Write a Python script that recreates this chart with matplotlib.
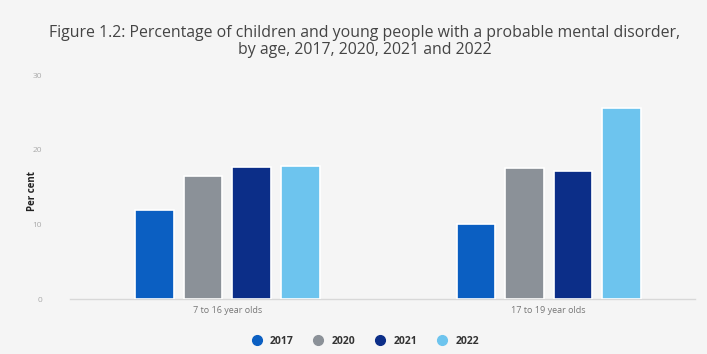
import numpy as np
import matplotlib
matplotlib.use('Agg')
import matplotlib.pyplot as plt
from matplotlib.lines import Line2D

groups = ['7 to 16 year olds', '17 to 19 year olds']
years = ['2017', '2020', '2021', '2022']
values = {
    '2017': [11.9, 10.0],
    '2020': [16.5, 17.5],
    '2021': [17.7, 17.2],
    '2022': [17.8, 25.6],
}
colors = ['#0b5fc2', '#8b9198', '#0c2e88', '#6dc4ee']

plt.rcParams['font.family'] = ['Open Sans', 'DejaVu Sans']
bg = '#f5f5f5'

fig = plt.figure(figsize=(7.07, 3.54), dpi=100, facecolor=bg)
ax = fig.add_axes([0.099, 0.155, 0.884, 0.633], facecolor=bg)

x = np.arange(len(groups))
pitch = 0.151
width = 0.12
for i, yr in enumerate(years):
    ax.bar(x + (i - 1.5) * pitch, values[yr], width=width, color=colors[i],
           edgecolor='white', linewidth=1.2, zorder=3)

ax.set_xlim(-0.49, 1.455)
ax.set_ylim(0, 30)
ax.set_yticks([0, 10, 20, 30])
ax.set_xticks(x)
ax.set_xticklabels(groups, fontsize=6.5, color='#777777')
ax.tick_params(axis='y', length=0, labelsize=6, labelcolor='#aaaaaa', pad=20)
ax.tick_params(axis='x', length=0, pad=5)
for s in ['top', 'right', 'left']:
    ax.spines[s].set_visible(False)
ax.spines['bottom'].set_color('#d8d8d8')
ax.spines['bottom'].set_linewidth(1)

fig.text(0.046, 0.46, 'Per cent', rotation=90, fontsize=7, fontweight='bold',
         color='#222222', ha='center', va='center')

fig.text(0.516, 0.93, 'Figure 1.2: Percentage of children and young people with a probable mental disorder,\nby age, 2017, 2020, 2021 and 2022',
         ha='center', va='top', fontsize=11.4, color='#444444', linespacing=1.12)

handles = [Line2D([0], [0], marker='o', linestyle='', markersize=7,
                  markerfacecolor=c, markeredgecolor=c) for c in colors]
fig.legend(handles, years, loc='center', bbox_to_anchor=(0.513, 0.036), ncol=4,
           frameon=False, handletextpad=0.3, columnspacing=1.35,
           prop={'weight': 'bold', 'size': 7.5})
for t in fig.legends[0].get_texts():
    t.set_color('#333333')

plt.savefig('out.png', dpi=100, facecolor=bg)
